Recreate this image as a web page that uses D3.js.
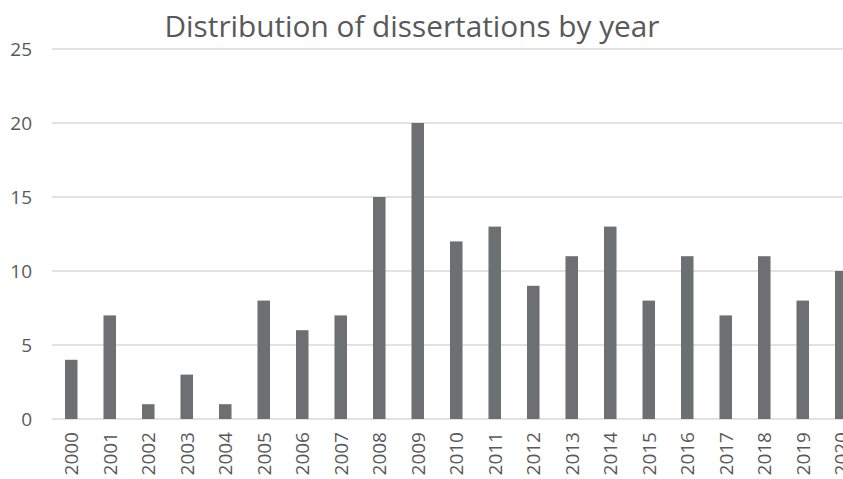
<!DOCTYPE html>
<html>
<head>
<meta charset="utf-8">
<script src="https://cdn.jsdelivr.net/npm/d3@7"></script>
<style>
  body { margin: 0; background: #fff; }
  svg { display: block; font-family: "Open Sans", sans-serif; }
</style>
</head>
<body>
<svg id="chart"></svg>
<script>
const width = 843;
const height = 479;

const years = ["2000", "2001", "2002", "2003", "2004", "2005", "2006", "2007", "2008", "2009",
  "2010", "2011", "2012", "2013", "2014", "2015", "2016", "2017", "2018", "2019", "2020"];
const counts = [4, 7, 1, 3, 1, 8, 6, 7, 15, 20, 12, 13, 9, 11, 13, 8, 11, 7, 11, 8, 10];
const yTicks = [0, 5, 10, 15, 20, 25];

const data = years.map((y, i) => ({ year: y, value: counts[i] }));

const svg = d3.select("#chart").attr("width", width).attr("height", height);

const x = d3.scaleBand()
  .domain(years)
  .range([52, 52 + 21 * 38.5])
  .paddingInner(0.675)
  .paddingOuter(0.3375);

const y = d3.scaleLinear().domain([0, 25]).range([419, 49]);

// gridlines
svg.append("g")
  .selectAll("line")
  .data(yTicks)
  .enter()
  .append("line")
  .attr("x1", 52)
  .attr("x2", width)
  .attr("y1", (d) => y(d))
  .attr("y2", (d) => y(d))
  .attr("stroke", "#d9d9d9")
  .attr("stroke-width", 1.5);

// y labels
svg.append("g")
  .selectAll("text")
  .data(yTicks)
  .enter()
  .append("text")
  .attr("x", 32)
  .attr("y", (d) => y(d))
  .attr("dy", "0.36em")
  .attr("text-anchor", "end")
  .attr("fill", "#595959")
  .style("font-size", "19px")
  .text((d) => d);

// bars
svg.append("g")
  .selectAll("rect")
  .data(data)
  .enter()
  .append("rect")
  .attr("x", (d) => x(d.year))
  .attr("width", x.bandwidth())
  .attr("y", (d) => y(d.value))
  .attr("height", (d) => y(0) - y(d.value))
  .attr("fill", "#6e6f71");

// x labels, rotated
svg.append("g")
  .selectAll("text")
  .data(years)
  .enter()
  .append("text")
  .attr("transform", (d) => `translate(${x(d) + x.bandwidth() / 2},432) rotate(-90)`)
  .attr("dy", "0.36em")
  .attr("text-anchor", "end")
  .attr("fill", "#595959")
  .style("font-size", "19px")
  .text((d) => d);

svg.append("text")
  .attr("x", 412)
  .attr("y", 37)
  .attr("text-anchor", "middle")
  .attr("fill", "#595959")
  .attr("textLength", 495)
  .attr("lengthAdjust", "spacingAndGlyphs")
  .style("font-size", "30px")
  .text("Distribution of dissertations by year");
</script>
</body>
</html>
